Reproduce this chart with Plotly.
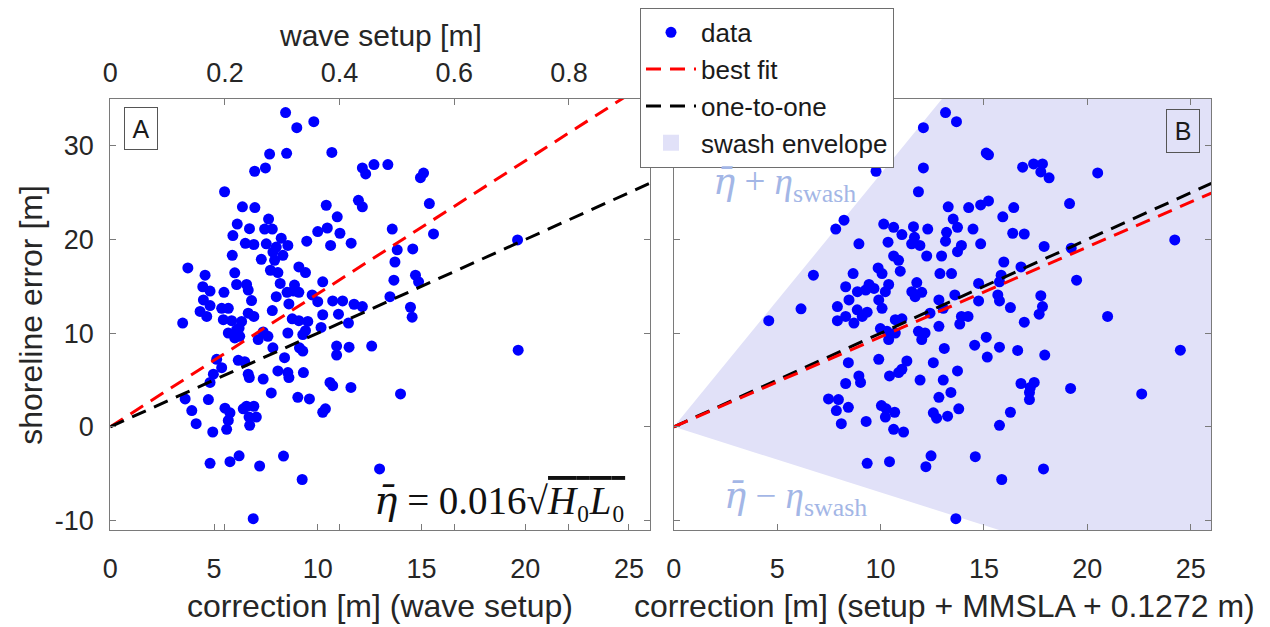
import plotly.graph_objects as go

# ---------------------------------------------------------------- data
# Panel A: correction from wave setup only [m] vs shoreline error [m]
a_corr = [8.45, 8.99, 9.81, 7.68, 8.50, 10.68, 6.96, 7.48, 12.15, 12.31, 12.71, 13.38, 14.95, 15.1,
          5.51, 6.37, 6.97, 10.41, 10.94, 11.96, 12.15, 6.12, 6.71, 7.63, 7.44, 7.81, 5.91, 8.24,
          10.0, 10.46, 11.07, 6.51, 6.92, 7.52, 8.56, 9.47, 10.62, 11.61,
          8.0, 5.88, 7.28, 7.84, 8.32, 7.92, 3.74, 4.57, 6.0, 7.72, 8.08, 9.09, 9.41, 6.09, 4.46,
          4.81, 5.48, 6.57, 6.65, 8.19, 8.88, 8.0, 8.52, 8.83, 9.09, 10.24, 9.73, 10.0, 4.49, 4.81,
          6.81, 8.61, 10.72, 11.2, 11.75, 12.15, 5.37, 5.69, 4.33, 4.65, 6.65, 6.92, 7.81, 10.24,
          11.0, 3.49, 5.45, 5.85, 6.33, 6.21, 8.77, 9.09, 9.52, 11.48, 5.69, 6.0, 6.24, 6.09, 7.37,
          7.6, 7.13, 8.56, 9.28, 9.41, 10.16, 7.84, 8.4, 9.12, 9.28, 10.91, 10.91, 11.51, 5.13,
          5.37, 6.17, 6.48, 4.97, 4.81, 6.65, 6.70, 7.37, 8.08, 8.56, 8.61, 9.31, 10.59, 10.72, 11.6,
          7.76, 9.04, 9.6, 10.24, 10.37, 3.61, 3.93, 4.14, 4.73, 4.94, 5.53, 5.77, 5.69, 5.61, 6.41,
          6.57, 6.92, 7.04, 6.69, 6.72, 4.81, 5.77, 6.21, 7.2, 8.35, 9.25, 6.89,
          15.38, 13.59, 15.58, 13.83, 14.58, 13.72, 13.67, 14.71, 14.86, 13.48, 14.47, 14.55,
          19.63, 12.6, 19.66, 13.99, 12.98]
a_err = [33.56, 31.94, 32.58, 29.12, 29.2, 29.3, 27.29, 27.64, 27.64, 27.0, 28.0, 28.0, 26.6, 27.1,
         25.1, 23.49, 23.41, 23.66, 22.43, 24.19, 23.49, 21.65, 21.16, 22.18, 21.12, 21.12, 20.42,
         20.14, 20.85, 21.23, 20.67, 19.6, 19.47, 19.54, 19.37, 19.82, 19.37, 19.61,
         19.2, 18.31, 17.89, 18.66, 18.31, 17.78, 16.97, 16.19, 16.44, 16.72, 16.47, 17.07, 16.47,
         15.2, 14.96, 14.5, 14.36, 15.2, 14.6, 15.31, 15.14, 13.9, 14.36, 14.5, 14.36, 15.49, 14.08,
         13.37, 13.55, 12.95, 13.48, 13.13, 13.45, 13.45, 13.09, 12.84, 12.66, 12.66, 12.32, 11.79,
         12.14, 11.79, 12.42, 11.97, 12.03, 11.08, 11.44, 11.33, 11.26, 10.55, 11.54, 11.33, 11.26,
         11.08, 10.02, 9.49, 9.67, 10.38, 10.13, 9.67, 9.32, 10.02, 9.85, 10.27, 10.62, 8.44, 7.38,
         8.44, 8.09, 8.62, 7.66, 8.51, 7.21, 6.32, 7.1, 6.96, 5.62, 4.74, 5.62, 5.26, 5.1, 5.97,
         5.79, 5.26, 5.79, 4.74, 4.39, 4.21,
         3.62, 3.15, 2.98, 1.56, 1.92, 2.98, 1.74, 0.34, 2.91, -0.55, 1.99, 1.5, 0.69, -0.26, 1.92,
         2.2, 2.2, 1.04, 1.04, 0.16, -3.89, -3.72, -3.09, -4.18, -3.12, -5.62, -9.81,
         23.84, 21.12, 20.6, 18.9, 19.0, 17.6, 15.66, 16.19, 15.49, 13.9, 12.77, 11.71,
         19.96, 8.62, 8.19, 3.51, -4.49]

# Panel B: correction from setup + MMSLA + 0.1272 m [m] vs shoreline error [m]
b_corr = [13.14, 13.67, 12.07, 15.11, 15.22, 9.78, 12.07, 16.87, 17.4, 17.83, 17.75, 18.15, 11.83,
          13.27, 14.26, 14.84, 15.22, 16.44, 13.51, 13.72, 15.91, 7.83, 8.23, 10.15, 10.63, 11.03,
          11.59, 11.64, 12.28, 13.19, 13.14, 14.47, 16.39, 16.95, 8.95, 10.36, 11.5, 11.9, 13.91,
          14.84, 17.91,
          12.23, 12.95, 13.72, 10.63, 10.87, 10.95, 9.88, 10.07, 8.67, 6.75, 12.87, 13.43, 15.96,
          16.79, 8.31, 8.88, 9.28, 9.44, 9.68, 10.39, 10.23, 11.75, 11.51, 11.99, 11.67, 14.74,
          15.83, 15.75, 13.59, 7.91, 8.47, 9.91, 10.07, 8.87, 9.35, 9.11, 7.91, 8.31, 8.71, 4.59,
          6.15, 12.82, 13.03, 12.39, 14.74, 15.67, 15.75, 17.75, 17.83, 17.67, 16.28, 16.95, 10.71,
          11.03, 9.99, 10.31, 10.39, 10.71, 11.83, 12.15, 11.99, 12.82, 13.91, 14.23, 13.83, 15.11,
          14.55, 15.16, 15.75, 13.08, 16.63, 17.94, 9.91, 8.44, 11.27, 11.03, 10.87, 10.43, 12.55,
          13.72, 8.95, 9.03, 8.31, 11.91, 13.03, 16.79, 17.43, 17.24,
          7.48, 7.96, 7.86, 8.44, 8.1, 9.3, 10.04, 10.27, 10.23, 10.68, 10.63, 11.11, 12.82, 13.4,
          12.55, 12.71, 13.24, 13.78, 16.28, 15.75, 17.2, 17.2, 9.35, 10.43, 12.44, 12.19, 14.58,
          15.86, 17.88, 13.64,
          20.5, 19.14, 19.22, 24.23, 19.48, 20.98, 24.5, 19.19, 22.63]
b_err = [33.56, 32.58, 31.94, 29.23, 29.05, 27.29, 27.64, 27.72, 28.07, 28.07, 27.22, 26.59, 25.1,
         23.49, 23.41, 23.7, 24.12, 23.41, 22.18, 21.3, 22.43, 21.12, 22.07, 21.65, 21.3, 20.53,
         21.37, 20.24, 21.12, 20.77, 19.82, 21.12, 20.67, 20.59, 19.54, 19.72, 19.54, 19.37, 19.37,
         19.54, 19.26,
         18.24, 18.24, 18.7, 18.24, 17.78, 16.62, 16.97, 16.36, 16.36, 16.19, 16.36, 16.36, 17.6,
         17.07, 14.96, 14.43, 14.61, 15.2, 14.78, 15.2, 14.43, 15.41, 14.43, 14.36, 13.9, 15.31,
         16.19, 15.49, 14.08, 12.84, 13.55, 13.55, 12.66, 12.49, 12.24, 11.79, 11.33, 11.79, 11.08,
         11.33, 12.6, 13.55, 12.66, 12.14, 13.45, 14.08, 13.45, 14.01, 12.84, 12.03, 12.74, 11.18,
         11.44, 11.54, 10.49, 10.2, 9.32, 10.02, 10.2, 10.02, 9.32, 10.73, 11.79, 11.79, 10.97,
         9.57, 8.72, 7.45, 8.51, 8.37, 8.16, 7.66, 7.21, 6.85, 7.03, 6.15, 5.79, 5.44, 6.85, 5.97,
         5.44, 4.74, 4.63, 4.99, 4.99, 4.63, 4.74, 4.21,
         2.98, 2.91, 1.74, 2.09, 0.34, 0.58, 2.27, 1.92, 1.04, 1.56, -0.26, -0.55, 3.15, 3.68,
         1.5, 0.93, 1.14, 1.92, 1.56, 0.16, 3.68, 2.91, -3.89, -3.72, -3.09, -4.25, -3.19,
         -5.62, -4.49, -9.81,
         27.11, 23.84, 19.08, 19.96, 15.66, 11.79, 8.19, 4.1, 3.51]

# fitted slopes (shoreline error per metre of correction)
fit_slope_a = 1.42
fit_slope_b = 0.96
one_to_one_slope = 1.0
# swash envelope bounds in panel B (mean setup +/- swash)
swash_upper_slope = 2.7
swash_lower_slope = -0.7

# axis ticks
corr_ticks = [0, 5, 10, 15, 20, 25]
err_ticks = [-10, 0, 10, 20, 30]
err_ticktext = ["-10", "0", "10", "20", "30"]
setup_ticks = [0, 0.2, 0.4, 0.6, 0.8]
setup_ticktext = ["0", "0.2", "0.4", "0.6", "0.8"]
corr_per_setup = 27.63  # metres of horizontal correction per metre of wave setup
corr_range = [0, 26]
err_range = [-11, 35]

# ---------------------------------------------------------------- layout helpers
W, H = 1270, 627


def fx(px):
    return px / W


def fy(py):
    return 1 - py / H


AX_COL = "#7a7a7a"
TXT_COL = "#262626"
SANS = "Liberation Sans, Arial, sans-serif"
SERIF = "Liberation Serif, DejaVu Serif, serif"
BLUE = "#0000ff"
ENV_FILL = "#e1e1f8"
MATH_LIGHT = "#a3b6e6"
ETA_BAR = "<span style='font-family:DejaVu Serif'><i>η̄</i></span>"

fig = go.Figure()

# swash envelope (panel B)
env_x = [0, corr_range[1], corr_range[1], 0]
env_y = [0, swash_upper_slope * corr_range[1], swash_lower_slope * corr_range[1], 0]
fig.add_trace(go.Scatter(x=env_x, y=env_y, xaxis="x2", yaxis="y2", mode="lines",
                         line=dict(width=0, color=ENV_FILL), fill="toself", fillcolor=ENV_FILL,
                         showlegend=False, hoverinfo="skip"))
# legend swatch for the envelope
fig.add_trace(go.Scatter(x=[None], y=[None], xaxis="x2", yaxis="y2", mode="markers",
                         marker=dict(symbol="square", size=30, color=ENV_FILL),
                         name="swash envelope", legendrank=4))

# data points
fig.add_trace(go.Scatter(x=a_corr, y=a_err, xaxis="x", yaxis="y", mode="markers",
                         marker=dict(size=11, color=BLUE), showlegend=False))
fig.add_trace(go.Scatter(x=b_corr, y=b_err, xaxis="x2", yaxis="y2", mode="markers",
                         marker=dict(size=11, color=BLUE), name="data", legendrank=1))

# empty trace that carries the wave-setup axis on top of panel A
fig.add_trace(go.Scatter(x=[None], y=[None], xaxis="x3", yaxis="y", mode="markers",
                         showlegend=False, hoverinfo="skip"))

line_x = corr_range
dash = "15px,9px"
# best fit and one-to-one lines
fig.add_trace(go.Scatter(x=line_x, y=[fit_slope_a * v for v in line_x], xaxis="x", yaxis="y",
                         mode="lines", line=dict(color="#ff0000", width=3, dash=dash),
                         showlegend=False))
fig.add_trace(go.Scatter(x=line_x, y=[one_to_one_slope * v for v in line_x], xaxis="x", yaxis="y",
                         mode="lines", line=dict(color="#000000", width=3, dash=dash),
                         showlegend=False))
fig.add_trace(go.Scatter(x=line_x, y=[one_to_one_slope * v for v in line_x], xaxis="x2", yaxis="y2",
                         mode="lines", line=dict(color="#000000", width=3, dash=dash),
                         name="one-to-one", legendrank=3))
fig.add_trace(go.Scatter(x=line_x, y=[fit_slope_b * v for v in line_x], xaxis="x2", yaxis="y2",
                         mode="lines", line=dict(color="#ff0000", width=3, dash=dash),
                         name="best fit", legendrank=2))

dom_a = [fx(102.9), fx(645.8)]
dom_b = [fx(670.1), fx(1211.0)]
dom_y = [fy(535), fy(100)]

axis_common = dict(showgrid=False, zeroline=False, showline=True, linecolor=AX_COL, linewidth=1.3,
                   ticks="inside", ticklen=6, tickcolor=AX_COL, tickwidth=1.2,
                   tickfont=dict(family=SANS, size=27, color=TXT_COL))

fig.update_layout(
    width=W, height=H, autosize=False,
    margin=dict(l=0, r=0, t=0, b=0),
    paper_bgcolor="white", plot_bgcolor="rgba(0,0,0,0)",
    xaxis=dict(domain=dom_a, range=corr_range, tickvals=corr_ticks, anchor="y", mirror=False,
               ticklabelstandoff=15, **axis_common),
    xaxis3=dict(overlaying="x", side="top", anchor="y",
                range=[corr_range[0] / corr_per_setup, corr_range[1] / corr_per_setup],
                tickvals=setup_ticks, ticktext=setup_ticktext, mirror="ticks",
                ticklabelstandoff=5, **axis_common),
    yaxis=dict(domain=dom_y, range=err_range, tickvals=err_ticks, ticktext=err_ticktext,
               anchor="x", mirror="ticks", ticklabelstandoff=10, **axis_common),
    xaxis2=dict(domain=dom_b, range=corr_range, tickvals=corr_ticks, anchor="y2", mirror="ticks",
                ticklabelstandoff=15, **axis_common),
    yaxis2=dict(domain=dom_y, range=err_range, tickvals=err_ticks, anchor="x2", mirror="ticks",
                showticklabels=False, **axis_common),
    legend=dict(x=fx(636), y=fy(8), xanchor="left", yanchor="top", bgcolor="white",
                bordercolor="#6e6e6e", borderwidth=1, font=dict(family=SANS, size=26, color="#1a1a1a"),
                itemwidth=50, tracegroupgap=0),
    showlegend=True,
)


def label(text, px, py, size, **kw):
    base = dict(text=text, x=fx(px), y=fy(py), xref="paper", yref="paper", showarrow=False,
                xanchor="center", yanchor="middle", font=dict(family=SANS, size=size, color=TXT_COL))
    base.update(kw)
    return base


ann = [
    # axis titles
    label("wave setup [m]", 375, 36, 30),
    label("shoreline error [m]", 23, 318, 32, textangle=-90),
    label("correction [m] (wave setup)", 374, 612, 32),
    label("correction [m] (setup + MMSLA + 0.1272 m)", 942, 612, 32),
    # panel labels
    label("A", 117, 108, 24, xanchor="left", yanchor="top", width=32, height=41, borderpad=0,
          bordercolor="#555555", borderwidth=1, bgcolor="white",
          font=dict(family=SANS, size=25, color="#1a1a1a")),
    label("B", 1165, 110, 24, xanchor="left", yanchor="top", width=32, height=42, borderpad=0,
          bordercolor="#555555", borderwidth=1,
          font=dict(family=SANS, size=25, color="#1a1a1a")),
    # formula in panel A
    label(ETA_BAR + " = 0.016√<span style='text-decoration:overline'><i>H</i>₀<i>L</i>₀</span>",
          623, 505, 39, xanchor="right", font=dict(family=SERIF, size=39, color="#111111")),
    # envelope labels in panel B
    label(ETA_BAR + " + <i>η</i><sub>swash</sub>", 707, 186, 37, xanchor="left",
          font=dict(family=SERIF, size=37, color=MATH_LIGHT)),
    label(ETA_BAR + " − <i>η</i><sub>swash</sub>", 719, 503, 37, xanchor="left",
          font=dict(family=SERIF, size=37, color=MATH_LIGHT)),
]
fig.update_layout(annotations=ann)

fig.write_html("out.html")
